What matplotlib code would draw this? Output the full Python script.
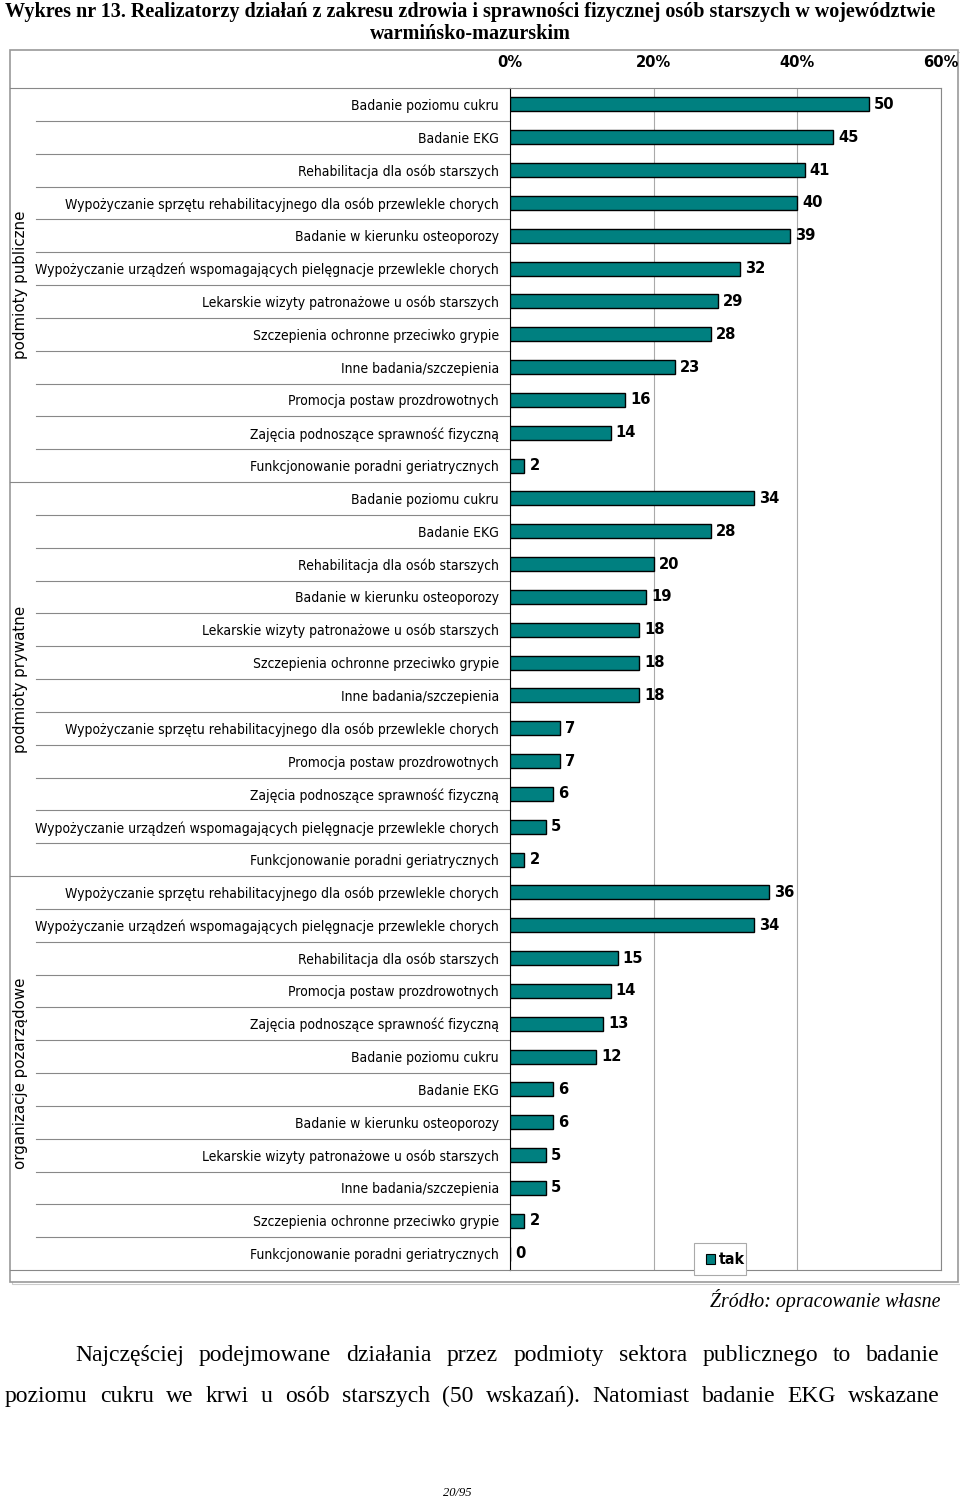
import matplotlib
matplotlib.use("Agg")
import matplotlib.pyplot as plt
from matplotlib import font_manager
from matplotlib.patches import Rectangle
from matplotlib.transforms import blended_transform_factory

SERIF = ["Liberation Serif", "DejaVu Serif"]

# --- dane ---
GROUPS = ["podmioty publiczne", "podmioty prywatne", "organizacje pozarządowe"]

PUBLIC_LABELS = [
    "Badanie poziomu cukru",
    "Badanie EKG",
    "Rehabilitacja dla osób starszych",
    "Wypożyczanie sprzętu rehabilitacyjnego dla osób przewlekle chorych",
    "Badanie w kierunku osteoporozy",
    "Wypożyczanie urządzeń wspomagających pielęgnacje przewlekle chorych",
    "Lekarskie wizyty patronażowe u osób starszych",
    "Szczepienia ochronne przeciwko grypie",
    "Inne badania/szczepienia",
    "Promocja postaw prozdrowotnych",
    "Zajęcia podnoszące sprawność fizyczną",
    "Funkcjonowanie poradni geriatrycznych",
]
PUBLIC_VALUES = [50, 45, 41, 40, 39, 32, 29, 28, 23, 16, 14, 2]

PRIVATE_LABELS = [
    "Badanie poziomu cukru",
    "Badanie EKG",
    "Rehabilitacja dla osób starszych",
    "Badanie w kierunku osteoporozy",
    "Lekarskie wizyty patronażowe u osób starszych",
    "Szczepienia ochronne przeciwko grypie",
    "Inne badania/szczepienia",
    "Wypożyczanie sprzętu rehabilitacyjnego dla osób przewlekle chorych",
    "Promocja postaw prozdrowotnych",
    "Zajęcia podnoszące sprawność fizyczną",
    "Wypożyczanie urządzeń wspomagających pielęgnacje przewlekle chorych",
    "Funkcjonowanie poradni geriatrycznych",
]
PRIVATE_VALUES = [34, 28, 20, 19, 18, 18, 18, 7, 7, 6, 5, 2]

NGO_LABELS = [
    "Wypożyczanie sprzętu rehabilitacyjnego dla osób przewlekle chorych",
    "Wypożyczanie urządzeń wspomagających pielęgnacje przewlekle chorych",
    "Rehabilitacja dla osób starszych",
    "Promocja postaw prozdrowotnych",
    "Zajęcia podnoszące sprawność fizyczną",
    "Badanie poziomu cukru",
    "Badanie EKG",
    "Badanie w kierunku osteoporozy",
    "Lekarskie wizyty patronażowe u osób starszych",
    "Inne badania/szczepienia",
    "Szczepienia ochronne przeciwko grypie",
    "Funkcjonowanie poradni geriatrycznych",
]
NGO_VALUES = [36, 34, 15, 14, 13, 12, 6, 6, 5, 5, 2, 0]

X_TICKS = [0, 20, 40, 60]
X_TICKLABELS = ["0%", "20%", "40%", "60%"]

TITLE = ("Wykres nr 13. Realizatorzy działań z zakresu zdrowia i sprawności fizycznej osób starszych w województwie\n"
         "warmińsko-mazurskim")
PARAGRAPH = [
    ("Najczęściej podejmowane działania przez podmioty sektora publicznego to badanie", 75),
    ("poziomu cukru we krwi u osób starszych (50 wskazań). Natomiast badanie EKG wskazane", 5),
]

TEAL = "#008080"
W, H = 960, 1499


def fx(px):
    return px / W


def fy(py):
    return 1 - py / H


# wąska czcionka (Arial Narrow w oryginale) — bierzemy co jest dostępne
names = {f.name for f in font_manager.fontManager.ttflist}
cond = [f for f in font_manager.fontManager.ttflist
        if f.name == "DejaVu Sans" and str(f.stretch) in ("condensed", "semi-condensed", "600", "700")]
if "Liberation Sans Narrow" in names:
    NARROW = dict(family=["Liberation Sans Narrow", "DejaVu Sans"])
elif cond:
    NARROW = dict(family=["DejaVu Sans"], fontstretch="condensed")
else:
    NARROW = dict(family=["Liberation Sans", "DejaVu Sans"])

fig = plt.figure(figsize=(W / 100, H / 100), dpi=100)
fig.patch.set_facecolor("white")
renderer = fig.canvas.get_renderer()

labels = PUBLIC_LABELS + PRIVATE_LABELS + NGO_LABELS
values = PUBLIC_VALUES + PRIVATE_VALUES + NGO_VALUES

# dopasowanie rozmiaru etykiet: najdłuższa ma ~460 px
probe = fig.text(0, 0, max(labels, key=len), fontsize=10, **NARROW)
lab_size = 10 * 462 / probe.get_window_extent(renderer).width
probe.remove()
lab_size = min(lab_size, 11.5)

# ramka wykresu
fig.patches.append(Rectangle((fx(12), fy(1284)), fx(948), 1232 / H, transform=fig.transFigure,
                             fill=False, edgecolor="#cccccc", lw=0.8, zorder=-1))
fig.patches.append(Rectangle((fx(10), fy(1282)), fx(948), 1232 / H, transform=fig.transFigure,
                             fill=True, facecolor="white", edgecolor="#999999", lw=1.2, zorder=-1))

top, bottom = 88, 1270
ax = fig.add_axes([fx(510), fy(bottom), fx(941 - 510), (bottom - top) / H])
ax.patch.set_alpha(0)

n = len(labels)
ypos = list(range(n))

ax.barh(ypos, values, height=0.43, color=TEAL, edgecolor="black", lw=1.0, zorder=3)
for y, v in zip(ypos, values):
    ax.text(v + 0.7, y, str(v), va="center", ha="left", fontsize=lab_size + 1.8,
            fontweight="bold", **NARROW)

ax.set_xlim(0, 60)
ax.set_ylim(n - 0.5, -0.5)
ax.xaxis.tick_top()
ax.set_xticks(X_TICKS)
ax.set_xticklabels(X_TICKLABELS, fontsize=lab_size + 1.8, fontweight="bold", **NARROW)
ax.tick_params(axis="x", length=0, pad=13)
ax.set_yticks(ypos)
ax.set_yticklabels(labels, fontsize=lab_size, **NARROW)
ax.tick_params(axis="y", length=0, pad=8)
ax.grid(axis="x", color="#aaaaaa", lw=0.8, zorder=0)
for side in ["top", "bottom", "right"]:
    ax.spines[side].set_color("#888888")
ax.spines["left"].set_color("black")

# linie separujące wiersze i grupy
tr = blended_transform_factory(ax.transAxes, ax.transData)
x_row = (36 - 510) / (941 - 510)
x_grp = (10 - 510) / (941 - 510)
group_size = len(PUBLIC_LABELS)
for k in range(1, n):
    x0 = x_grp if k % group_size == 0 else x_row
    ax.plot([x0, 0], [k - 0.5, k - 0.5], transform=tr, color="#888888", lw=0.8, clip_on=False)
for yb in (-0.5, n - 0.5):
    ax.plot([x_grp, 0], [yb, yb], transform=tr, color="#888888", lw=0.8, clip_on=False)

# nazwy grup
for gi, g in enumerate(GROUPS):
    yc = group_size * gi + (group_size - 1) / 2
    ax.text(x_grp + 0.024, yc, g, transform=tr, rotation=90, va="center", ha="center",
            fontsize=10.8, family=["DejaVu Sans"])

# legenda
fig.patches.append(Rectangle((fx(694), fy(1275)), fx(52), 32 / H, transform=fig.transFigure,
                             fill=True, facecolor="white", edgecolor="#aaaaaa", lw=0.8, zorder=5))
fig.patches.append(Rectangle((fx(706), fy(1264)), fx(9), 10 / H, transform=fig.transFigure,
                             facecolor=TEAL, edgecolor="black", lw=0.8, zorder=6))
fig.text(fx(719), fy(1259), "tak", va="center", ha="left", fontsize=lab_size + 1.5,
         fontweight="bold", zorder=7, **NARROW)

# tytuł
fig.text(fx(470), fy(23), TITLE, ha="center", va="center", fontsize=14.5, fontweight="bold",
         family=SERIF, linespacing=1.15)

# źródło
fig.text(fx(940), fy(1301), "Źródło: opracowanie własne", ha="right", va="center",
         fontsize=14.3, style="italic", family=SERIF)

# akapit wyjustowany
right_edge = 940
for (line, x_start), ybase in zip(PARAGRAPH, (1361, 1402)):
    words = line.split(" ")
    arts = [fig.text(0, fy(ybase), w_, ha="left", va="baseline", fontsize=17, family=SERIF)
            for w_ in words]
    widths = [a.get_window_extent(renderer).width for a in arts]
    gap = (right_edge - x_start - sum(widths)) / (len(words) - 1)
    x = x_start
    for a, wd in zip(arts, widths):
        a.set_x(fx(x))
        x += wd + gap

fig.text(fx(457), fy(1493), "20/95", ha="center", va="center", fontsize=9,
         style="italic", family=SERIF)

fig.savefig("out.png", dpi=100)
